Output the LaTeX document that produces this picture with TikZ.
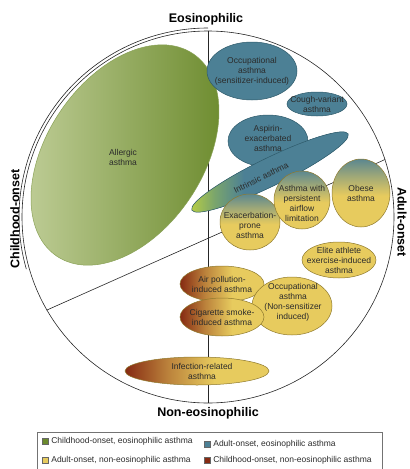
\documentclass[tikz,border=0pt]{standalone}
\usepackage{fontspec}
\setmainfont{Liberation Sans}
\usepackage{tikz}
\usetikzlibrary{positioning, shapes.geometric}
\definecolor{greenlight}{HTML}{C0CE98}
\definecolor{greendark}{HTML}{6B8A2C}
\definecolor{tealc}{HTML}{4C8095}
\definecolor{tealdark}{HTML}{2E5A6A}
\definecolor{yellowc}{HTML}{E7CB5E}
\definecolor{yellowdark}{HTML}{8F7A2E}
\definecolor{redc}{HTML}{862A12}
\definecolor{limec}{HTML}{B2D23A}
\definecolor{textc}{HTML}{2B2B2B}
% colour runs of the blobs
\pgfdeclareverticalshading{adultshade}{100bp}{
  color(0bp)=(yellowc); color(48bp)=(yellowc); color(62bp)=(tealc!45!yellowc);
  color(75bp)=(tealc!90!yellowc); color(100bp)=(tealc!90!yellowc)}
\pgfdeclarehorizontalshading{childshade}{100bp}{
  color(0bp)=(redc); color(25bp)=(redc); color(40bp)=(yellowc!55!redc);
  color(56bp)=(yellowc); color(100bp)=(yellowc)}
\pgfdeclarehorizontalshading{intrinsicshade}{100bp}{
  color(0bp)=(limec); color(25bp)=(limec!80!yellowc); color(33bp)=(tealc!55!limec);
  color(42bp)=(tealc); color(100bp)=(tealc)}
\tikzset{
  ring line/.style={draw=black!85, line width=0.6pt},
  blob/.style={
    ellipse,
    inner sep=0pt,
    line width=0.5pt
  },
  allergic blob/.style={
    blob, draw=greendark!80,
    left color=greenlight, right color=greendark
  },
  eos blob/.style={blob, draw=tealdark, fill=tealc},
  adult blob/.style={blob, draw=yellowdark, shading=adultshade},
  plain blob/.style={blob, draw=yellowdark, fill=yellowc},
  child blob/.style={blob, draw=yellowdark, shading=childshade},
  blob text/.style={
    font=\fontsize{8.5}{10}\selectfont,
    text=textc, align=center, inner sep=0pt
  },
  side label/.style={font=\fontsize{12.5}{14}\selectfont\bfseries},
  key/.style={draw=black!60, line width=0.3pt, minimum size=6pt, inner sep=0pt},
  key text/.style={font=\fontsize{8.5}{10}\selectfont, text=textc, inner sep=0pt}
}

\begin{document}
\begin{tikzpicture}[x=1pt, y=-1pt]
  \useasboundingbox (0,0) rectangle (410,469);

  % Circle and dividing lines
  \node[circle, ring line, minimum size=372pt, inner sep=0pt] (ring) at (208,217) {};
  \draw[ring line] (ring.north) -- (ring.south);
  \draw[ring line] (ring.210) -- (ring.18);
  \draw[ring line] (ring.center) ++(90:189pt) arc[start angle=90, end angle=196, radius=189pt];

  % Side labels
  \node[side label] (eos) at (206,19) {Eosinophilic};
  \node[side label] (noneos) at (208,413) {Non-eosinophilic};
  \node[side label, rotate=90] (child) at (15,219) {Childhood-onset};
  \node[side label, rotate=-90] (adult) at (402,222) {Adult-onset};

  % Childhood-onset, eosinophilic
  \node[allergic blob, rotate=56, minimum width=244pt, minimum height=156pt] (allergic) at (125,155) {};
  \node[blob text] (allergic text) at (123,157) {Allergic\\asthma};

  % Adult-onset, eosinophilic
  \node[eos blob, minimum width=90pt, minimum height=58pt] (occsens) at (252,71) {};
  \node[blob text] (occsens text) at (occsens) {Occupational\\asthma\\(sensitizer-induced)};
  \node[eos blob, minimum width=60pt, minimum height=24pt] (cough) at (317,104) {};
  \node[blob text] (cough text) at (cough) {Cough-variant\\asthma};
  \node[eos blob, minimum width=80pt, minimum height=52pt] (aspirin) at (268,141) {};
  \node[blob text] (aspirin text) at (268,138) {Aspirin-\\exacerbated\\asthma};
  \node[eos blob, rotate=26, minimum width=174pt, minimum height=28pt, shading=intrinsicshade] (intrinsic) at (270,172) {};
  \node[blob text, rotate=26] (intrinsic text) at (261,178) {Intrinsic asthma};

  % Adult-onset, non-eosinophilic
  \node[adult blob, minimum width=60pt, minimum height=56pt] (exac) at (250,222) {};
  \node[blob text] (exac text) at (250,225) {Exacerbation-\\prone\\asthma};
  \node[adult blob, minimum width=56pt, minimum height=58pt] (persist) at (302,200) {};
  \node[blob text] (persist text) at (302,203) {Asthma with\\persistent\\airflow\\limitation};
  \node[adult blob, minimum width=58pt, minimum height=68pt] (obese) at (361,193) {};
  \node[blob text] (obese text) at (obese) {Obese\\asthma};
  \node[plain blob, minimum width=74pt, minimum height=36pt] (elite) at (339,260) {};
  \node[blob text] (elite text) at (elite) {Elite athlete\\exercise-induced\\asthma};

  % Childhood-onset, non-eosinophilic
  \node[child blob, minimum width=84pt, minimum height=36pt] (pollution) at (222,284) {};
  \node[blob text] (pollution text) at (pollution) {Air pollution-\\induced asthma};
  \node[plain blob, minimum width=80pt, minimum height=58pt] (occnon) at (292,306) {};
  \node[blob text] (occnon text) at (293,302) {Occupational\\asthma\\(Non-sensitizer\\induced)};
  \node[child blob, minimum width=84pt, minimum height=38pt] (smoke) at (222,317) {};
  \node[blob text] (smoke text) at (smoke) {Cigarette smoke-\\induced asthma};
  \node[child blob, minimum width=144pt, minimum height=28pt] (infection) at (197,371) {};
  \node[blob text] (infection text) at (202,371) {Infection-related\\asthma};

  % Legend
  \draw[draw=black!55, line width=0.4pt] (37,432) rectangle (382,474);
  \node[key, fill=greendark] (key1) at (45,441) {};
  \node[key text, right=3pt of key1] (key1 text) {Childhood-onset, eosinophilic asthma};
  \node[key, fill=tealc] (key2) at (207,444) {};
  \node[key text, right=3pt of key2] (key2 text) {Adult-onset, eosinophilic asthma};
  \node[key, fill=yellowc] (key3) at (45,460) {};
  \node[key text, right=3pt of key3] (key3 text) {Adult-onset, non-eosinophilic asthma};
  \node[key, fill=redc] (key4) at (207,460) {};
  \node[key text, right=3pt of key4] (key4 text) {Childhood-onset, non-eosinophilic asthma};
\end{tikzpicture}
\end{document}
